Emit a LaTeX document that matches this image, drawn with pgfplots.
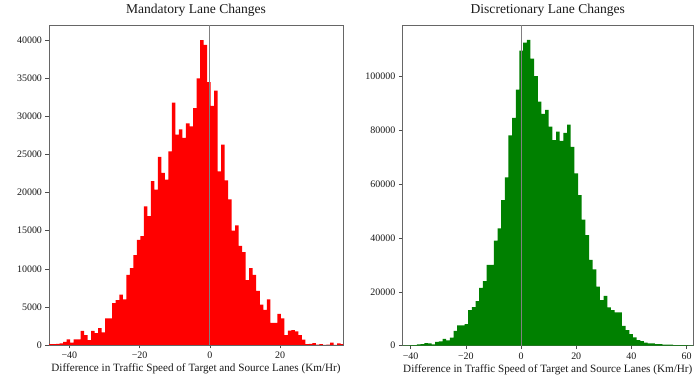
\documentclass[border=0pt]{standalone}
\usepackage{fontspec}
\setmainfont{Liberation Serif}
\usepackage{pgfplots}
\pgfplotsset{compat=1.18}
\definecolor{mplgreen}{HTML}{008000}
\begin{document}
\begin{tikzpicture}
\path[use as bounding box] (0,0) rectangle (695bp,380bp);
\pgfplotsset{
  myhist/.style={
    scale only axis,
    axis line style={black!60, line width=0.8pt},
    tick style={black!70, line width=0.6pt},
    tick align=outside,
    tick pos=left,
    major tick length=3.5bp,
    ymin=0,
    scaled y ticks=false,
    yticklabel style={/pgf/number format/fixed, /pgf/number format/1000 sep={}, /pgf/number format/assume math mode=true},
    tick label style={font=\fontsize{10}{12}\selectfont, black!90},
    title style={font=\fontsize{13.6}{16}\selectfont, at={(0.5,1)}, anchor=base, yshift=6bp, black!90},
    xlabel style={font=\fontsize{11.2}{13}\selectfont, at={(0.5,0)}, anchor=base, yshift=-27bp, black!90},
    xlabel={Difference in Traffic Speed of Target and Source Lanes (Km/Hr)},
  }
}
% ---------------- Mandatory ----------------
\begin{axis}[myhist,
  at={(49bp,35bp)}, anchor=south west,
  width=294bp, height=320bp,
  xmin=-45.8, xmax=37.9, ymax=42000,
  xtick={-40,-20,0,20}, xticklabels={−40,−20,0,20},
  ytick={0,5000,10000,15000,20000,25000,30000,35000,40000},
  title={Mandatory Lane Changes}]
\addplot[fill=red, draw=none, const plot mark left] coordinates {
(-45.8,100) (-44.8,100) (-43.8,150) (-42.8,200) (-41.8,400) (-40.8,750)
(-39.8,300) (-38.8,750) (-37.8,750) (-36.8,1850) (-35.8,1300) (-34.8,650)
(-33.8,1850) (-32.8,1550) (-31.8,2200) (-30.8,1650) (-29.8,3500) (-28.8,3500)
(-27.8,5500) (-26.8,5900) (-25.8,6600) (-24.8,6000) (-23.8,9200) (-22.8,10100)
(-21.8,11800) (-20.8,13800) (-19.8,14300) (-18.8,18200) (-17.8,16900) (-16.8,21500)
(-15.8,20400) (-14.8,24700) (-13.8,22600) (-12.8,21700) (-11.8,25400) (-10.8,31800)
(-9.8,27600) (-8.8,28300) (-7.8,27200) (-6.8,29100) (-5.8,28700) (-4.8,31100)
(-3.8,35000) (-2.8,40000) (-1.8,39400) (-0.8,34500) (0.2,31400) (1.2,33400)
(2.2,22800) (3.2,26300) (4.2,21600) (5.2,19100) (6.2,15000) (7.2,15700)
(8.2,13000) (9.2,12200) (10.2,8500) (11.2,10100) (12.2,9200) (13.2,7100)
(14.2,5300) (15.2,4600) (16.2,6000) (17.2,2900) (18.2,2900) (19.2,4100)
(20.2,3500) (21.2,1300) (22.2,1900) (23.2,1950) (24.2,1800) (25.2,1300)
(26.2,700) (27.2,100) (28.2,150) (29.2,250) (30.2,50) (31.2,100)
(32.2,0) (33.2,50) (34.2,300) (35.2,0) (36.2,200) (37.2,100) (38.2,100)
} \closedcycle;
\addplot[black!50, line width=1bp] coordinates {(0,0) (0,42000)};
\end{axis}
% ---------------- Discretionary ----------------
\begin{axis}[myhist,
  at={(402.3bp,34.3bp)}, anchor=south west,
  width=291bp, height=320.7bp,
  xmin=-43, xmax=62.4, ymax=119000,
  xtick={-40,-20,0,20,40,60}, xticklabels={−40,−20,0,20,40,60},
  ytick={0,20000,40000,60000,80000,100000},
  title={Discretionary Lane Changes}]
\addplot[fill=mplgreen, draw=none, const plot mark left] coordinates {
(-43.00,100) (-41.67,150) (-40.35,200) (-39.02,250) (-37.70,500) (-36.37,600)
(-35.04,1000) (-33.72,900) (-32.39,500) (-31.07,1400) (-29.74,1600) (-28.41,2500)
(-27.09,2000) (-25.76,3000) (-24.44,5500) (-23.11,7500) (-21.78,7500) (-20.46,8000)
(-19.13,13200) (-17.81,14300) (-16.48,16500) (-15.15,21500) (-13.83,24000) (-12.50,30000)
(-11.18,30000) (-9.85,39000) (-8.52,43500) (-7.20,54000) (-5.87,62500) (-4.55,78000)
(-3.22,84500) (-1.89,95000) (-0.57,109500) (0.76,112500) (2.08,113500) (3.41,106500)
(4.74,100000) (6.06,90600) (7.39,86000) (8.71,87500) (10.04,81300) (11.37,76300)
(12.69,79400) (14.02,76000) (15.34,79000) (16.67,82000) (18.00,73800) (19.32,63900)
(20.65,55900) (21.97,46800) (23.30,41000) (24.63,31800) (25.95,28300) (27.28,21900)
(28.60,16900) (29.93,18500) (31.26,14200) (32.58,13200) (33.91,12400) (35.23,12400)
(36.56,7400) (37.89,5800) (39.21,4300) (40.54,3100) (41.86,2100) (43.19,1700)
(44.52,1100) (45.84,900) (47.17,900) (48.49,600) (49.82,600) (51.15,400)
(52.47,400) (53.80,400) (55.12,250) (56.45,250) (57.78,200) (59.10,200)
(60.43,150) (61.75,150) (63.08,150)
} \closedcycle;
\addplot[black!50, line width=1bp] coordinates {(0,0) (0,119000)};
\end{axis}
\end{tikzpicture}
\end{document}
